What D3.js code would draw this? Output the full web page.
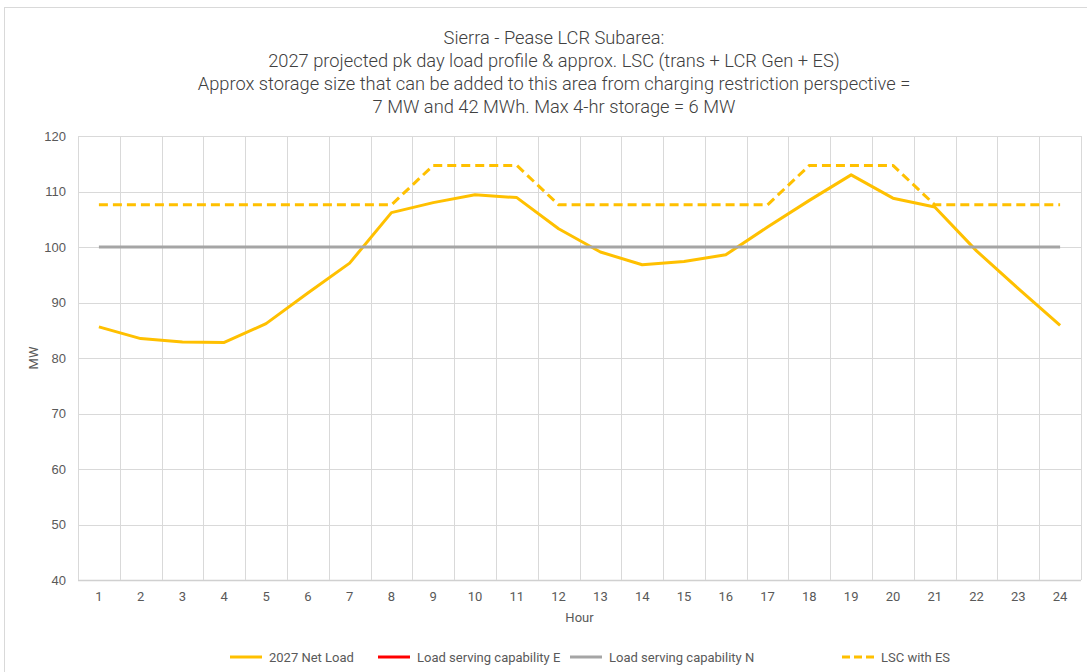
<!DOCTYPE html>
<html>
<head>
<meta charset="utf-8">
<script src="https://cdn.jsdelivr.net/npm/d3@7"></script>
<style>
  body { margin: 0; background: #fff; }
  text { font-family: "Roboto", "DejaVu Sans", sans-serif; }
</style>
</head>
<body>
<div id="chart"></div>
<script>
// chart data
const hours = d3.range(1, 25);
const netLoad = [85.6, 83.5, 82.9, 82.8, 86.2, 91.7, 97.1, 106.2, 108.0, 109.4, 108.9, 103.3,
                 99.1, 96.8, 97.4, 98.6, 103.6, 108.4, 113.0, 108.8, 107.2, 99.3, 92.5, 85.9];
// capability E is listed in the legend but has no visible line
const lscE = hours.map(() => null);
const lscN = hours.map(() => 100);
const lscES = [107.6, 107.6, 107.6, 107.6, 107.6, 107.6, 107.6, 107.6, 114.7, 114.7, 114.7, 107.6,
               107.6, 107.6, 107.6, 107.6, 107.6, 114.7, 114.7, 114.7, 107.6, 107.6, 107.6, 107.6];
const yTicks = [40, 50, 60, 70, 80, 90, 100, 110, 120];
const titleLines = [
    'Sierra - Pease LCR Subarea:',
    '2027 projected pk day load profile & approx. LSC (trans + LCR Gen + ES)',
    'Approx storage size that can be added to this area from charging restriction perspective =',
    '7 MW and 42 MWh. Max 4-hr storage = 6 MW'
];

const series = [
    {name: '2027 Net Load', values: netLoad, color: '#FFC000', dash: null},
    {name: 'Load serving capability E', values: lscE, color: '#FF0000', dash: null},
    {name: 'Load serving capability N', values: lscN, color: '#A5A5A5', dash: null},
    {name: 'LSC with ES', values: lscES, color: '#FFC000', dash: '9,5'}
];

const svgWidth = 1087, svgHeight = 672;
const margin = {top: 136, right: 6, bottom: 92, left: 78};
const width = svgWidth - margin.left - margin.right;
const height = svgHeight - margin.top - margin.bottom;

const svg = d3.select('#chart').append('svg')
    .attr('width', svgWidth)
    .attr('height', svgHeight);

// outer border
svg.append('rect')
    .attr('x', 4.5).attr('y', 7.5)
    .attr('width', svgWidth - 4).attr('height', svgHeight)
    .attr('fill', '#fff')
    .attr('stroke', '#D9D9D9');

// title
svg.append('g').selectAll('text')
    .data(titleLines)
    .enter().append('text')
    .attr('x', 554)
    .attr('y', (d, i) => 44 + i * 23)
    .attr('text-anchor', 'middle')
    .attr('font-size', 18.3)
    .attr('font-weight', 300)
    .attr('fill', '#404040')
    .text(d => d);

const g = svg.append('g').attr('transform', `translate(${margin.left},${margin.top})`);

const xScale = d3.scaleBand().domain(hours).range([0, width]);
const yScale = d3.scaleLinear().domain([40, 120]).range([height, 0]);
const xPos = d => xScale(d) + xScale.bandwidth() / 2;

// horizontal grid
g.append('g').selectAll('line')
    .data(yTicks)
    .enter().append('line')
    .attr('x1', 0).attr('x2', width)
    .attr('y1', d => Math.round(yScale(d)) + 0.5)
    .attr('y2', d => Math.round(yScale(d)) + 0.5)
    .attr('stroke', d => d === 40 ? '#D0D0D0' : '#D9D9D9')
    .attr('stroke-width', d => d === 40 ? 1.5 : 1);

// vertical grid at category boundaries
g.append('g').selectAll('line')
    .data(hours.concat([25]))
    .enter().append('line')
    .attr('x1', d => Math.round(d === 25 ? width : xScale(d)) + 0.5)
    .attr('x2', d => Math.round(d === 25 ? width : xScale(d)) + 0.5)
    .attr('y1', 0).attr('y2', height)
    .attr('stroke', '#D9D9D9');

// y axis labels
const yAxis = d3.axisLeft(yScale).tickValues(yTicks).tickSize(0).tickPadding(12);
const yAxisGroup = g.append('g').call(yAxis);
yAxisGroup.select('.domain').remove();
yAxisGroup.selectAll('text')
    .attr('font-size', 13)
    .attr('fill', '#595959')
    .style('font-family', '"Liberation Sans", "DejaVu Sans", sans-serif');

// x axis labels
const xAxis = d3.axisBottom(xScale).tickSize(0).tickPadding(12);
const xAxisGroup = g.append('g').attr('transform', `translate(0,${height})`).call(xAxis);
xAxisGroup.select('.domain').remove();
xAxisGroup.selectAll('text')
    .attr('font-size', 13)
    .attr('fill', '#595959');

// axis titles
svg.append('text')
    .attr('transform', `translate(38,${margin.top + height / 2}) rotate(-90)`)
    .attr('text-anchor', 'middle')
    .attr('font-size', 13)
    .attr('fill', '#595959')
    .text('MW');

svg.append('text')
    .attr('x', margin.left + width / 2)
    .attr('y', 622)
    .attr('text-anchor', 'middle')
    .attr('font-size', 13)
    .attr('fill', '#595959')
    .text('Hour');

// lines
const line = d3.line()
    .defined(d => d != null)
    .x((d, i) => xPos(hours[i]))
    .y(d => yScale(d));

g.append('g').selectAll('path')
    .data(series)
    .enter().append('path')
    .attr('d', d => line(d.values))
    .attr('fill', 'none')
    .attr('stroke', d => d.color)
    .attr('stroke-width', 3)
    .attr('stroke-dasharray', d => d.dash)
    .attr('stroke-linejoin', 'round');

// legend
const legendX = [230, 378, 570, 842];
const legend = svg.append('g').selectAll('g')
    .data(series)
    .enter().append('g')
    .attr('transform', (d, i) => `translate(${legendX[i]},657)`);

legend.append('line')
    .attr('x1', 0).attr('x2', 32)
    .attr('stroke', d => d.color)
    .attr('stroke-width', 3)
    .attr('stroke-dasharray', d => d.dash ? '8,4' : null);

legend.append('text')
    .attr('x', 39)
    .attr('y', 4.5)
    .attr('font-size', 13)
    .attr('fill', '#595959')
    .text(d => d.name);
</script>
</body>
</html>
